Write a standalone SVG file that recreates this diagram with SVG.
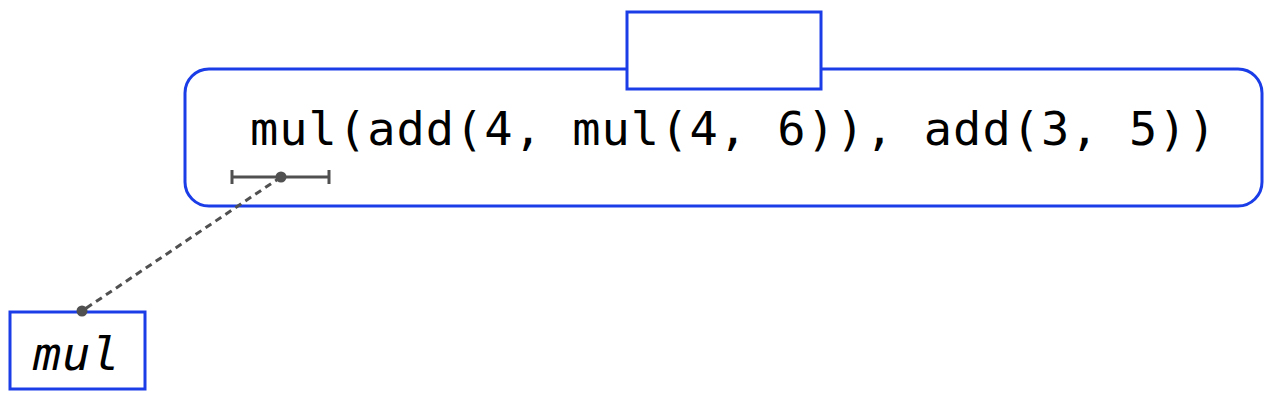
<svg xmlns="http://www.w3.org/2000/svg" width="1269" height="403" viewBox="0 0 1269 403">
<style>
.box{fill:#fff;stroke:#1a3de8;stroke-width:3}
.code{font-family:"DejaVu Sans Mono",monospace;font-size:47px;fill:#000;letter-spacing:1px}
.gray{stroke:#505050;stroke-width:3;fill:none}
.dot{fill:#505050}
</style>
<g id="frame">
<rect class="box" x="185" y="69" width="1077" height="137" rx="24" ry="24"/>
<text class="code" x="250" y="145">mul(add(4, mul(4, 6)), add(3, 5))</text>
</g>
<g id="value">
<rect class="box" x="627" y="12" width="194" height="77"/>
</g>
<g id="span">
<path class="gray" d="M232 177H329M232 170V184M329 170V184"/>
</g>
<g id="mul">
<rect class="box" x="10" y="312" width="135" height="77"/>
<text class="code" x="33" y="370" font-style="italic">mul</text>
</g>
<g id="connectors">
<line class="gray" x1="281" y1="177" x2="82" y2="311" stroke-dasharray="7,5"/>
<circle class="dot" cx="281" cy="177" r="5.5"/>
<circle class="dot" cx="82" cy="311" r="5.5"/>
</g>
</svg>
